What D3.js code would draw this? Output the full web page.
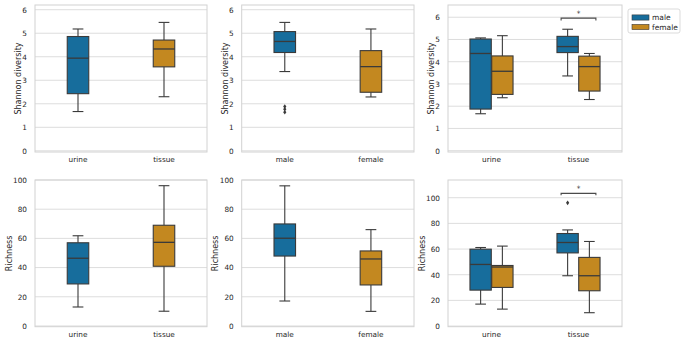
<!DOCTYPE html>
<html lang="en">
<head>
<meta charset="UTF-8">
<title>Shannon diversity and richness</title>
<script src="https://d3js.org/d3.v7.min.js"></script>
<style>
  body { margin: 0; background: #fff; }
  svg { display: block; font-family: "DejaVu Sans", sans-serif; }
  .grid line { stroke: #dddddd; stroke-width: 1; }
  .frame { fill: none; stroke: #d2d2d2; stroke-width: 1; }
  .tick text { fill: #262626; font-size: 7.3px; font-family: "DejaVu Sans", sans-serif; }
</style>
</head>
<body>
<svg id="chart" width="685" height="344"></svg>
<script>
const sampleTypes = ["urine", "tissue"];
const sexes = ["male", "female"];
const palette = ["#176d9c", "#c38820"];
const lineColor = "#3a3a3a";

// five-number boxes: [low whisker, q1, median, q3, high whisker]
const shannonByType = [[1.67, 2.43, 3.94, 4.86, 5.18], [2.30, 3.57, 4.33, 4.71, 5.46]];
const shannonBySex = [[3.37, 4.18, 4.65, 5.07, 5.46], [2.29, 2.49, 3.58, 4.26, 5.18]];
const shannonBySexOutliers = [[1.64, 1.77, 1.88], []];
const shannonUrineBySex = [[1.66, 1.87, 4.37, 5.02, 5.07], [2.38, 2.53, 3.57, 4.26, 5.17]];
const shannonTissueBySex = [[3.36, 4.41, 4.68, 5.14, 5.46], [2.30, 2.68, 3.78, 4.25, 4.37]];

const richnessByType = [[13, 28.8, 46.4, 57, 61.8], [10.1, 40.9, 57.3, 69, 96.1]];
const richnessBySex = [[17.1, 47.9, 60.1, 69.9, 96], [10, 28.1, 45.9, 51.4, 66]];
const richnessUrineBySex = [[17.1, 28, 48, 59.9, 61.2], [13.2, 30.1, 46, 47.2, 62.3]];
const richnessTissueBySex = [[39.2, 57, 65.1, 72.1, 74.9], [10.4, 27.5, 39.2, 53.5, 65.9]];
const richnessTissueMaleOutliers = [96];

const shannonTicks = [0, 1, 2, 3, 4, 5, 6];
const richnessTicks = [0, 20, 40, 60, 80, 100];

// significance marks (category, bracket level, tick drop, text)
const shannonSig = { cat: "tissue", level: 5.96, drop: 0.11, text: "*" };
const richnessSig = { cat: "tissue", level: 103.4, drop: 1.4, text: "*" };

const svg = d3.select("#chart");

function singleBoxes(cats, stats, outliers) {
    return cats.map((c, i) => ({
        cat: c, offset: 0, width: 0.25, color: palette[i],
        stats: stats[i], outliers: outliers ? outliers[i] : []
    }));
}

function hueBoxes(urine, tissue, outliers) {
    const out = [];
    [urine, tissue].forEach((grp, ci) => {
        grp.forEach((s, hi) => {
            out.push({
                cat: sampleTypes[ci], offset: hi === 0 ? -0.125 : 0.125, width: 0.245,
                color: palette[hi], stats: s,
                outliers: outliers && outliers[ci] ? outliers[ci][hi] : []
            });
        });
    });
    return out;
}

const topY = 5, topH = 147, botY = 180, botH = 146.7;
const panels = [
    { x: 35, y: topY, w: 172, h: topH, domain: [-0.05, 6.2], ticks: shannonTicks,
      label: "Shannon diversity", cats: sampleTypes,
      boxes: singleBoxes(sampleTypes, shannonByType) },
    { x: 241.7, y: topY, w: 172.3, h: topH, domain: [-0.05, 6.2], ticks: shannonTicks,
      label: "Shannon diversity", cats: sexes,
      boxes: singleBoxes(sexes, shannonBySex, shannonBySexOutliers) },
    { x: 448, y: topY, w: 174, h: topH, domain: [-0.06, 6.55], ticks: shannonTicks,
      label: "Shannon diversity", cats: sampleTypes,
      boxes: hueBoxes(shannonUrineBySex, shannonTissueBySex), sig: shannonSig, legend: true },
    { x: 35, y: botY, w: 172, h: botH, domain: [-0.5, 100], ticks: richnessTicks,
      label: "Richness", cats: sampleTypes,
      boxes: singleBoxes(sampleTypes, richnessByType) },
    { x: 241.7, y: botY, w: 172.3, h: botH, domain: [-0.5, 100], ticks: richnessTicks,
      label: "Richness", cats: sexes,
      boxes: singleBoxes(sexes, richnessBySex) },
    { x: 448, y: botY, w: 174, h: botH, domain: [-0.5, 113.8], ticks: richnessTicks,
      label: "Richness", cats: sampleTypes,
      boxes: hueBoxes(richnessUrineBySex, richnessTissueBySex, [null, [richnessTissueMaleOutliers, []]]),
      sig: richnessSig }
];

function drawPanel(p) {
    const g = svg.append("g").attr("transform", `translate(${p.x},${p.y})`);
    const y = d3.scaleLinear().domain(p.domain).range([p.h, 0]);
    const x = d3.scaleBand().domain(p.cats).range([0, p.w]);
    const band = x.bandwidth();

    g.append("g").attr("class", "grid")
        .selectAll("line").data(p.ticks).join("line")
        .attr("x1", 0).attr("x2", p.w)
        .attr("y1", d => y(d)).attr("y2", d => y(d));

    g.append("rect").attr("class", "frame").attr("width", p.w).attr("height", p.h);

    const ya = g.append("g").call(d3.axisLeft(y).tickValues(p.ticks)
        .tickFormat(d3.format("d")).tickSize(0).tickPadding(8));
    ya.select(".domain").remove();
    const xa = g.append("g").attr("transform", `translate(0,${p.h})`)
        .call(d3.axisBottom(x).tickSize(0).tickPadding(5.3));
    xa.select(".domain").remove();

    const tw = d3.max(ya.selectAll("text").nodes(), n => n.getComputedTextLength());
    g.append("text")
        .attr("transform", `translate(${-8 - tw - 1.5},${p.h / 2}) rotate(-90)`)
        .attr("text-anchor", "middle")
        .attr("fill", "#262626")
        .style("font-size", "8px")
        .text(p.label);

    const bx = g.append("g");
    p.boxes.forEach(b => {
        const cx = x(b.cat) + band / 2 + b.offset * band;
        const w = b.width * band;
        const [lo, q1, med, q3, hi] = b.stats;
        const bg = bx.append("g").attr("stroke", lineColor).attr("stroke-width", 1.1);
        bg.append("line").attr("x1", cx).attr("x2", cx).attr("y1", y(lo)).attr("y2", y(q1));
        bg.append("line").attr("x1", cx).attr("x2", cx).attr("y1", y(q3)).attr("y2", y(hi));
        bg.append("line").attr("x1", cx - w / 4).attr("x2", cx + w / 4).attr("y1", y(lo)).attr("y2", y(lo));
        bg.append("line").attr("x1", cx - w / 4).attr("x2", cx + w / 4).attr("y1", y(hi)).attr("y2", y(hi));
        bg.append("rect").attr("x", cx - w / 2).attr("width", w)
            .attr("y", y(q3)).attr("height", y(q1) - y(q3))
            .attr("fill", b.color);
        bg.append("line").attr("x1", cx - w / 2).attr("x2", cx + w / 2)
            .attr("y1", y(med)).attr("y2", y(med)).attr("stroke-width", 1.3);
        bg.selectAll("path.flier").data(b.outliers).join("path")
            .attr("class", "flier")
            .attr("d", "M0,-2.3L1.6,0L0,2.3L-1.6,0Z")
            .attr("transform", d => `translate(${cx},${y(d)})`)
            .attr("fill", lineColor).attr("stroke", "none");
    });

    if (p.sig) {
        const c = x(p.sig.cat) + band / 2;
        const x1 = c - 0.2 * band, x2 = c + 0.2 * band;
        const yl = y(p.sig.level), yd = y(p.sig.level - p.sig.drop);
        g.append("path")
            .attr("d", `M${x1},${yd}L${x1},${yl}L${x2},${yl}L${x2},${yd}`)
            .attr("fill", "none").attr("stroke", "#4a4a4a").attr("stroke-width", 1.1);
        g.append("text").attr("x", c).attr("y", yl - 2.3)
            .attr("text-anchor", "middle").attr("fill", "#262626")
            .style("font-size", "7.3px").text(p.sig.text);
    }

    if (p.legend) {
        const lg = g.append("g").attr("transform", `translate(${p.w + 6},4)`);
        lg.append("rect").attr("width", 52).attr("height", 24).attr("rx", 2)
            .attr("fill", "#fff").attr("stroke", "#d2d2d2").attr("stroke-width", 0.8);
        const items = lg.selectAll("g.item").data(sexes).join("g")
            .attr("class", "item")
            .attr("transform", (d, i) => `translate(4,${8.5 + i * 9.5})`);
        items.append("rect").attr("x", 0).attr("y", -2.6).attr("width", 17).attr("height", 5.2)
            .attr("fill", (d, i) => palette[i]).attr("stroke", lineColor).attr("stroke-width", 0.6);
        items.append("text").attr("x", 20).attr("y", 2.6)
            .attr("fill", "#262626").style("font-size", "7.5px").text(d => d);
    }
}

panels.forEach(drawPanel);
</script>
</body>
</html>
